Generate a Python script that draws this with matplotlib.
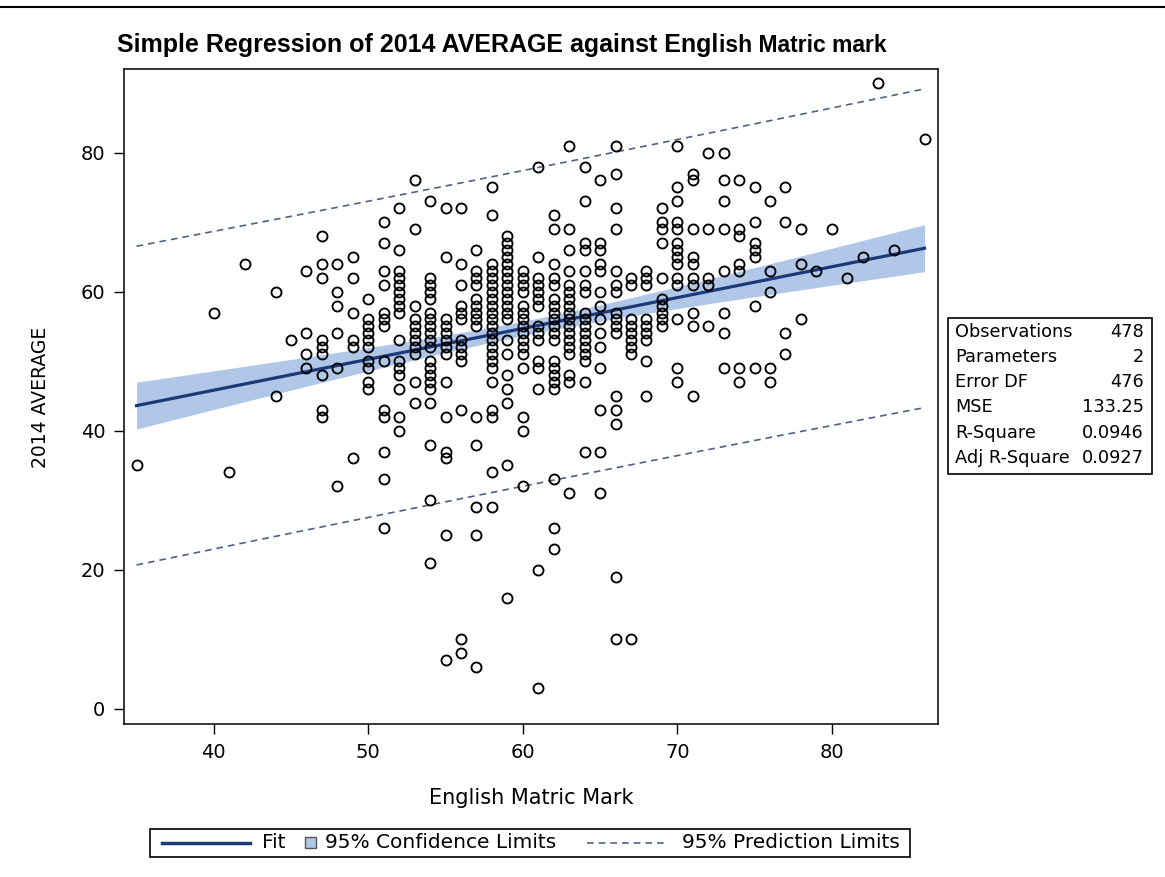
import numpy as np
import matplotlib
matplotlib.use("Agg")
import matplotlib.pyplot as plt
from matplotlib import font_manager
from matplotlib.patches import Rectangle
from matplotlib.lines import Line2D

# English matric mark (x) and the 2014 averages seen at each mark
marks = [35, 40, 41, 42, 44, 45, 46, 47, 48, 49, 50, 51, 52, 53, 54, 55, 56, 57,
         58, 59, 60, 61, 62, 63, 64, 65, 66, 67, 68, 69, 70, 71, 72, 73, 74, 75,
         76, 77, 78, 79, 80, 81, 82, 83, 84, 86]
averages = [
    [35],
    [57],
    [34],
    [64],
    [60, 45],
    [53],
    [63, 54, 51, 49],
    [68, 64, 62, 53, 52, 51, 48, 43, 42],
    [64, 60, 58, 54, 49, 32],
    [65, 62, 57, 53, 52, 36],
    [59, 56, 55, 54, 53, 52, 50, 49, 47, 46],
    [70, 67, 63, 61, 57, 56, 55, 50, 43, 42, 37, 33, 26],
    [72, 66, 63, 62, 61, 60, 59, 58, 57, 53, 50, 49, 48, 46, 42, 40],
    [76, 69, 58, 56, 55, 54, 53, 52, 51, 47, 44],
    [73, 62, 61, 60, 59, 57, 56, 55, 54, 53, 52, 50, 49, 48, 47, 46, 44, 38, 30, 21],
    [72, 65, 56, 55, 54, 53, 52, 51, 47, 42, 37, 36, 25, 7],
    [72, 64, 61, 58, 57, 56, 53, 52, 51, 50, 43, 10, 8],
    [66, 63, 62, 61, 59, 58, 57, 56, 55, 42, 38, 29, 25, 6],
    [75, 71, 64, 63, 62, 61, 60, 59, 58, 57, 56, 55, 54, 53, 52, 51, 50, 49, 47, 43, 42, 34, 29],
    [68, 67, 66, 65, 64, 63, 62, 61, 60, 59, 58, 57, 56, 53, 51, 48, 46, 44, 35, 16],
    [63, 62, 61, 60, 58, 57, 56, 55, 54, 53, 52, 51, 49, 42, 40, 32],
    [78, 65, 62, 61, 60, 59, 58, 55, 54, 53, 50, 49, 46, 20, 3],
    [71, 69, 64, 62, 61, 59, 58, 57, 56, 55, 54, 53, 50, 49, 48, 47, 46, 33, 26, 23],
    [81, 69, 66, 63, 61, 60, 59, 58, 57, 56, 55, 54, 53, 52, 51, 48, 47, 31],
    [78, 73, 67, 66, 63, 61, 60, 57, 56, 55, 54, 53, 52, 51, 50, 47, 37],
    [76, 67, 66, 64, 63, 60, 58, 56, 54, 52, 49, 43, 37, 31],
    [81, 77, 72, 69, 63, 61, 60, 57, 56, 55, 54, 45, 43, 41, 19, 10],
    [62, 61, 56, 55, 54, 53, 52, 51, 10],
    [63, 62, 61, 56, 55, 54, 53, 50, 45],
    [72, 70, 69, 67, 62, 59, 58, 57, 56, 55],
    [81, 75, 73, 70, 69, 67, 66, 65, 64, 62, 61, 56, 49, 47],
    [77, 76, 69, 65, 64, 62, 61, 57, 55, 45],
    [80, 69, 62, 61, 55],
    [80, 76, 73, 69, 63, 57, 54, 49],
    [76, 69, 68, 64, 63, 49, 47],
    [75, 70, 67, 66, 65, 58, 49],
    [73, 63, 60, 49, 47],
    [75, 70, 54, 51],
    [69, 64, 56],
    [63],
    [69],
    [62],
    [65],
    [90],
    [66],
    [82],
]

stat_labels = ["Observations", "Parameters", "Error DF", "MSE", "R-Square", "Adj R-Square"]
stat_values = ["478", "2", "476", "133.25", "0.0946", "0.0927"]

# fit, band widths from the table values
fit_intercept = 28.07
fit_slope = 0.444
mark_mean = 60.5
mark_sxx = 32500.0
n_obs = 478
mse = 133.25
t_crit = 1.965

fit_color = "#1b3a78"
band_color = "#b0c7e8"
pred_color = "#4f6282"

W, H = 1165, 877


def fx(px):
    return px / W


def fy(py):
    return 1 - py / H


names = {f.name for f in font_manager.fontManager.ttflist}
title_font = "Liberation Sans" if "Liberation Sans" in names else "DejaVu Sans"

fig = plt.figure(figsize=(W / 100, H / 100), dpi=100)
ax = fig.add_axes([fx(124), fy(724), fx(938) - fx(124), fy(69) - fy(724)])

xs = np.concatenate([[m] * len(a) for m, a in zip(marks, averages)])
ys = np.concatenate([np.array(a, dtype=float) for a in averages])

xg = np.linspace(min(marks), max(marks), 200)
fit = fit_intercept + fit_slope * xg
lev = 1.0 / n_obs + (xg - mark_mean) ** 2 / mark_sxx
ci = t_crit * np.sqrt(mse * lev)
pi = t_crit * np.sqrt(mse * (1 + lev))

ax.fill_between(xg, fit - ci, fit + ci, color=band_color, lw=0, zorder=1)
ax.plot(xg, fit + pi, color=pred_color, lw=1.2, dashes=(4, 3), zorder=2)
ax.plot(xg, fit - pi, color=pred_color, lw=1.2, dashes=(4, 3), zorder=2)
ax.plot(xg, fit, color=fit_color, lw=2.3, zorder=3)
ax.plot(xs, ys, ls="", marker="o", ms=7.2, mfc="none", mec="black", mew=1.35, zorder=4)

ax.set_xlim(34.19, 86.87)
ax.set_ylim(-2.2, 92.04)
ax.set_xticks([40, 50, 60, 70, 80])
ax.set_yticks([0, 20, 40, 60, 80])
ax.tick_params(direction="out", length=7.5, width=1, labelsize=14, pad=6, colors="black")
for s in ax.spines.values():
    s.set_linewidth(1.1)

fig.text(fx(531), fy(798), "English Matric Mark", fontsize=15, ha="center", va="center")
fig.text(fx(40), fy(397), "2014 AVERAGE", fontsize=13.5, rotation=90, ha="center", va="center")

# title: big bold part, then the rest in a smaller bold size
t1 = fig.text(fx(117), fy(51.7), "Simple Regression of 2014 AVERAGE against Engl",
              fontsize=18, fontweight="bold", family=title_font, ha="left", va="baseline")
fig.canvas.draw()
bb = t1.get_window_extent()
fig.text(bb.x1 / W + fx(1), fy(51.7), "ish Matric mark",
         fontsize=16.5, fontweight="bold", family=title_font, ha="left", va="baseline")

fig.add_artist(Line2D([0, 1], [fy(7), fy(7)], transform=fig.transFigure, color="black", lw=1.5))

# legend box at the bottom
ly = 843
fig.add_artist(Rectangle((fx(150), fy(857)), fx(910) - fx(150), fy(829) - fy(857),
                         transform=fig.transFigure, fill=False, ec="black", lw=1.2))
fig.add_artist(Line2D([fx(162), fx(250)], [fy(ly), fy(ly)], transform=fig.transFigure,
                      color=fit_color, lw=2.5))
fig.text(fx(262), fy(ly), "Fit", fontsize=14.5, va="center", ha="left")
fig.add_artist(Rectangle((fx(305), fy(848)), fx(316) - fx(305), fy(837) - fy(848),
                         transform=fig.transFigure, fc=band_color, ec="#555555", lw=1))
fig.text(fx(325), fy(ly), "95% Confidence Limits", fontsize=14.5, va="center", ha="left")
fig.add_artist(Line2D([fx(587), fx(665)], [fy(ly), fy(ly)], transform=fig.transFigure,
                      color=pred_color, lw=1.2, dashes=(4, 3)))
fig.text(fx(682), fy(ly), "95% Prediction Limits", fontsize=14.5, va="center", ha="left")

# fit statistics table
fig.add_artist(Rectangle((fx(948), fy(474)), fx(1152) - fx(948), fy(318) - fy(474),
                         transform=fig.transFigure, fill=False, ec="black", lw=1.2))
for i, (lab, val) in enumerate(zip(stat_labels, stat_values)):
    yy = fy(331.7 + i * 25.2)
    fig.text(fx(955), yy, lab, fontsize=12.8, ha="left", va="center")
    fig.text(fx(1144), yy, val, fontsize=12.8, ha="right", va="center")

fig.savefig("out.png", dpi=100, facecolor="white")
